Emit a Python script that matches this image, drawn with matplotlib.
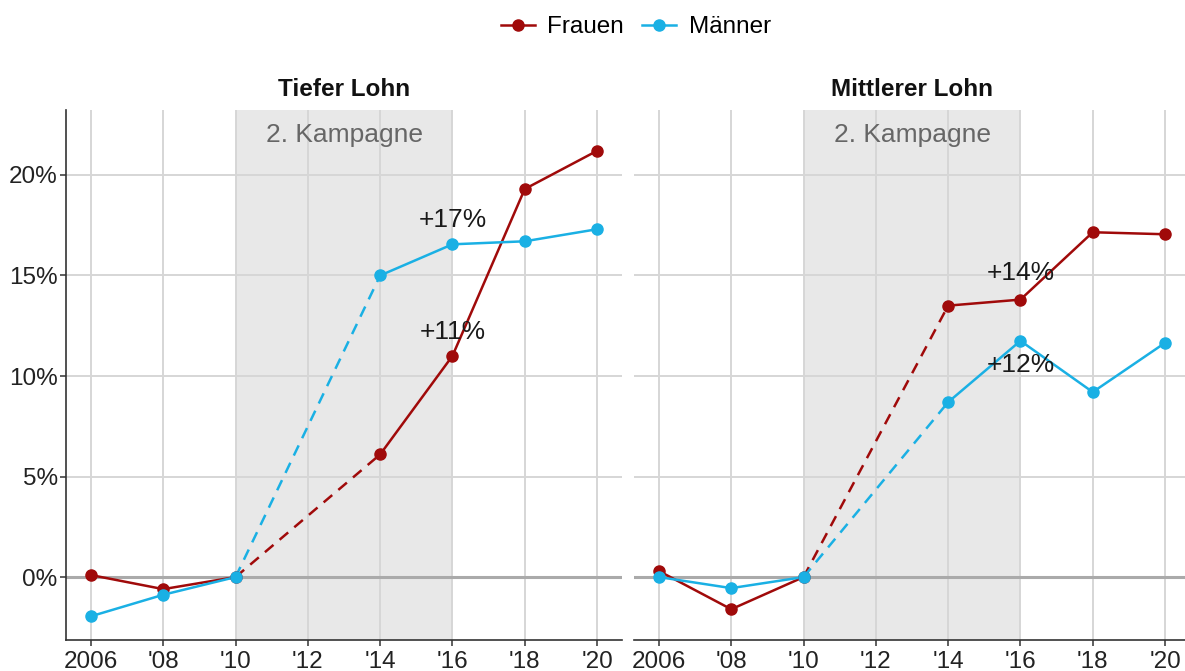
import matplotlib
matplotlib.use("Agg")
import matplotlib.pyplot as plt
from matplotlib.lines import Line2D

plt.rcParams['font.family'] = ['Liberation Sans', 'DejaVu Sans']

years = [2006, 2008, 2010, 2014, 2016, 2018, 2020]
tick_years = [2006, 2008, 2010, 2012, 2014, 2016, 2018, 2020]
tick_labels = ['2006', "'08", "'10", "'12", "'14", "'16", "'18", "'20"]
y_ticks = [0, 5, 10, 15, 20]
y_labels = ['0%', '5%', '10%', '15%', '20%']

panels = ['Tiefer Lohn', 'Mittlerer Lohn']
frauen = {
    'Tiefer Lohn':    [0.1, -0.6, 0.0, 6.1, 11.0, 19.3, 21.2],
    'Mittlerer Lohn': [0.3, -1.6, 0.0, 13.5, 13.8, 17.15, 17.05],
}
maenner = {
    'Tiefer Lohn':    [-1.95, -0.88, 0.0, 15.0, 16.55, 16.7, 17.3],
    'Mittlerer Lohn': [0.0, -0.55, 0.0, 8.7, 11.75, 9.2, 11.65],
}
annotations = {
    'Tiefer Lohn':    [('+17%', 2016, 17.75), ('+11%', 2016, 12.2)],
    'Mittlerer Lohn': [('+14%', 2016, 15.1), ('+12%', 2016, 10.55)],
}
campaign = (2010, 2016)
campaign_label = '2. Kampagne'

col_f = '#a00a0a'
col_m = '#1ab0e4'

W, H = 1185, 671
fig = plt.figure(figsize=(W / 100, H / 100), dpi=100)
fig.patch.set_facecolor('white')

ax_boxes = [(66, 110, 556, 530), (634, 110, 556, 530)]
for i, (name, (x0, y0, w, h)) in enumerate(zip(panels, ax_boxes)):
    ax = fig.add_axes([x0 / W, (H - y0 - h) / H, w / W, h / H])
    ax.set_xlim(2005.31, 2020.69)
    ax.set_ylim(-3.13, 23.23)
    ax.set_facecolor('white')
    ax.axvspan(campaign[0], campaign[1], color='#e8e8e8', zorder=0, lw=0)
    ax.set_xticks(tick_years)
    ax.set_xticklabels(tick_labels)
    ax.set_yticks(y_ticks)
    ax.grid(True, color='#d6d6d6', lw=1.4, zorder=0.5)
    ax.set_axisbelow(True)
    ax.axhline(0, color='#aaaaaa', lw=2.2, zorder=1)
    ax.text(sum(campaign) / 2, 22.0, campaign_label, ha='center', va='center',
            fontsize=19, color='#666666', zorder=2)

    for vals, c in [(frauen[name], col_f), (maenner[name], col_m)]:
        ax.plot(years[:3], vals[:3], color=c, lw=1.8, zorder=3)
        ax.plot(years[3:], vals[3:], color=c, lw=1.8, zorder=3)
        ax.plot(years[2:4], vals[2:4], color=c, lw=1.8, ls=(0, (4.5, 3.2)), zorder=3)
        ax.plot(years, vals, ls='none', marker='o', ms=8, color=c, zorder=4)

    for txt, xx, yy in annotations[name]:
        ax.text(xx, yy, txt, ha='center', va='center', fontsize=19,
                color='#1a1a1a', zorder=5)

    ax.set_title(name, fontsize=17.5, fontweight='bold', pad=10, color='#111111')
    for s in ['top', 'right']:
        ax.spines[s].set_visible(False)
    ax.spines['bottom'].set_color('#333333')
    ax.spines['bottom'].set_linewidth(1.2)
    ax.tick_params(axis='x', labelsize=17.5, colors='#333333', length=4,
                   width=1.1, labelcolor='#222222', pad=4)
    if i == 0:
        ax.set_yticklabels(y_labels)
        ax.spines['left'].set_color('#333333')
        ax.spines['left'].set_linewidth(1.2)
        ax.tick_params(axis='y', labelsize=17.5, colors='#333333', length=4,
                       width=1.1, labelcolor='#222222', pad=2)
    else:
        ax.spines['left'].set_visible(False)
        ax.tick_params(axis='y', left=False, labelleft=False)

handles = [
    Line2D([0], [0], color=col_f, lw=1.8, marker='o', ms=8),
    Line2D([0], [0], color=col_m, lw=1.8, marker='o', ms=8),
]
fig.legend(handles, ['Frauen', 'Männer'], loc='center', ncol=2,
           bbox_to_anchor=(636 / W, 1 - 27 / H), frameon=False,
           fontsize=17.5, handlelength=1.4, columnspacing=0.75, handletextpad=0.5)

fig.savefig('out.png', dpi=100, facecolor='white')
